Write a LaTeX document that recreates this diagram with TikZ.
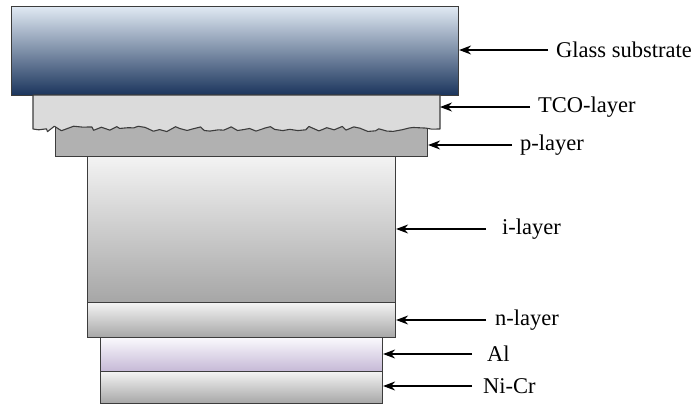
\documentclass[tikz,border=0pt]{standalone}
\usepackage{fontspec}
\setmainfont{Liberation Serif}
\usetikzlibrary{arrows.meta,decorations.pathmorphing}
\definecolor{edgec}{HTML}{3C3C3C}
\definecolor{glasstop}{HTML}{E0E9F3}
\definecolor{glassbot}{HTML}{1A345C}
\definecolor{tcofill}{HTML}{DBDBDB}
\definecolor{pfill}{HTML}{B1B1B1}
\definecolor{graytop}{HTML}{F3F3F3}
\definecolor{graybot}{HTML}{A6A6A6}
\definecolor{altop}{HTML}{FAF9FD}
\definecolor{albot}{HTML}{C5B8D6}
\tikzset{
  layer/.style={draw=edgec, line width=1.1pt, inner sep=0pt, anchor=north west},
  lbl/.style={inner sep=0pt, anchor=west, font=\fontsize{22.5}{26}\selectfont},
  arr/.style={line width=1.3pt, -{Stealth[length=12pt,width=9pt]}}
}
\begin{document}
\begin{tikzpicture}[x=1pt,y=-1pt]
\pgfmathsetseed{11}
\useasboundingbox (0,0) rectangle (698,405);
% glass
\node[layer, shade, top color=glasstop, bottom color=glassbot, minimum width=447pt, minimum height=89pt] (glass) at (11,6) {};
% p-layer (under rough TCO edge)
\node[layer, fill=pfill, minimum width=372pt, minimum height=31pt] (p) at (55,125) {};
% TCO with rough bottom
\draw[draw=edgec, line width=1.1pt, fill=tcofill, line join=round]
  (33,95) -- (440,95) -- (440,129)
  decorate[decoration={random steps, segment length=6.5pt, amplitude=3pt}] {-- (33,129)}
  -- cycle;
\coordinate (tco) at (440,107);
% i-layer
\node[layer, shade, top color=graytop, bottom color=graybot, minimum width=308pt, minimum height=146pt] (i) at (87,156) {};
% n-layer
\node[layer, shade, top color=graytop, bottom color=graybot, minimum width=308pt, minimum height=35pt] (n) at (87,302) {};
% Al
\node[layer, shade, top color=altop, bottom color=albot, minimum width=282pt, minimum height=34pt] (al) at (100,337) {};
% Ni-Cr
\node[layer, shade, top color=graytop, bottom color=graybot, minimum width=282pt, minimum height=32pt] (nicr) at (100,371) {};
% labels
\node[lbl] (lglass) at (556,50) {Glass substrate};
\node[lbl] (ltco) at (538,107) {TCO-layer};
\node[lbl] (lp) at (520,145) {p-layer};
\node[lbl] (li) at (502,229) {i-layer};
\node[lbl] (ln) at (495,320) {n-layer};
\node[lbl] (lal) at (487,354) {Al};
\node[lbl] (lnicr) at (483,386) {Ni-Cr};
% arrows
\draw[arr] ([xshift=-8pt]lglass.west) -- (glass.east |- lglass.west);
\draw[arr] ([xshift=-8pt]ltco.west) -- (tco |- ltco.west);
\draw[arr] ([xshift=-8pt]lp.west) -- (p.east |- lp.west);
\draw[arr] ([xshift=-16pt]li.west) -- (i.east |- li.west);
\draw[arr] ([xshift=-9pt]ln.west) -- (n.east |- ln.west);
\draw[arr] ([xshift=-15pt]lal.west) -- (al.east |- lal.west);
\draw[arr] ([xshift=-11pt]lnicr.west) -- (nicr.east |- lnicr.west);
\end{tikzpicture}
\end{document}
